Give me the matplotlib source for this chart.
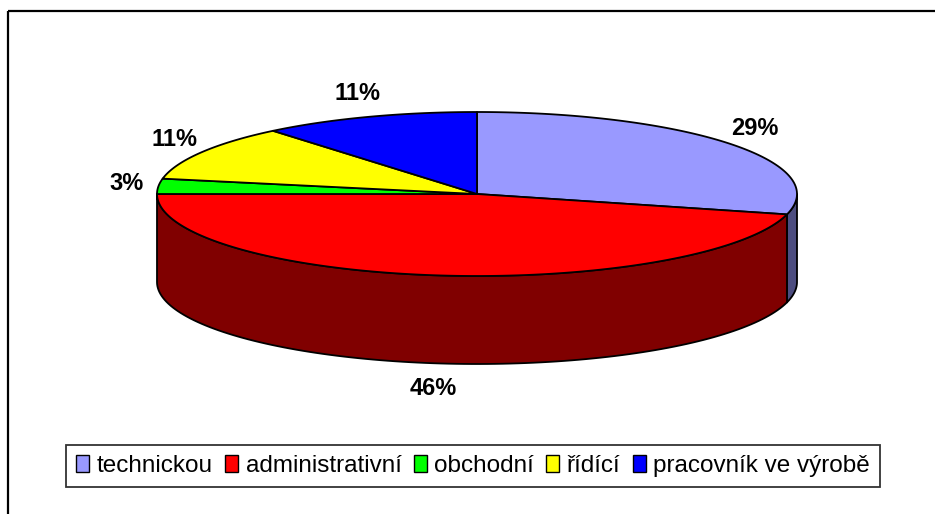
import numpy as np
import matplotlib
matplotlib.use("Agg")
import matplotlib.pyplot as plt
from matplotlib.patches import Polygon, Patch, Rectangle

plt.rcParams['font.family'] = ['Liberation Sans', 'DejaVu Sans']

# data
categories = ["technickou", "administrativní", "obchodní", "řídící", "pracovník ve výrobě"]
shares = [29, 46, 3, 11, 11]
top_colors = ["#9999FF", "#FF0000", "#00FF00", "#FFFF00", "#0000FF"]
side_colors = ["#4D4D80", "#800000", "#008000", "#808000", "#000080"]

# pie geometry, in pixels
cx, cy = 477, 194
a, b = 320, 82
depth = 88


def arc(t1, t2, n=120, dz=0):
    t = np.radians(np.linspace(t1, t2, n))
    return np.column_stack([cx + a * np.cos(t), cy - b * np.sin(t) + dz])


fig = plt.figure(figsize=(9.35, 5.14), dpi=100)
ax = fig.add_axes([0, 0, 1, 1])
ax.set_xlim(0, 935)
ax.set_ylim(514, 0)
ax.axis('off')

# outer chart frame (right and bottom edge fall outside the picture)
ax.add_patch(Rectangle((8, 11), 1000, 600, fill=False, ec='black', lw=1.6))

total = float(sum(shares))
bounds = 90 - 360 * np.concatenate([[0], np.cumsum(shares)]) / total

# front walls
for i in range(len(shares)):
    hi, lo = bounds[i], bounds[i + 1]
    for k in (-1, 0, 1):
        w_lo = max(lo, -180 + 360 * k)
        w_hi = min(hi, 360 * k)
        if w_hi - w_lo > 0.01:
            top = arc(w_lo, w_hi)
            bot = arc(w_lo, w_hi, dz=depth)[::-1]
            ax.add_patch(Polygon(np.vstack([top, bot]), closed=True,
                                 fc=side_colors[i], ec='black', lw=1.3,
                                 joinstyle='round'))

# top faces
for i in range(len(shares)):
    pts = np.vstack([[cx, cy], arc(bounds[i], bounds[i + 1])])
    ax.add_patch(Polygon(pts, closed=True, fc=top_colors[i], ec='black',
                         lw=1.3, joinstyle='round'))

# percentage labels
for i, s in enumerate(shares):
    m = np.radians((bounds[i] + bounds[i + 1]) / 2)
    lx = cx + (a + 32) * np.cos(m)
    ly = cy - (b + 25) * np.sin(m)
    if np.sin(m) < 0:
        ly += depth
    ax.text(lx, ly, f"{s}%", ha='center', va='center', fontsize=17,
            fontweight='bold')

handles = [Patch(fc=c, ec='black', lw=1.0) for c in top_colors]
leg = ax.legend(handles, categories, ncol=5, loc='center',
                bbox_to_anchor=(473 / 935, 1 - 466 / 514),
                fontsize=17.5, frameon=True, fancybox=False,
                handlelength=0.55, handleheight=0.7, handletextpad=0.3,
                columnspacing=0.5, borderpad=0.4, borderaxespad=0)
leg.get_frame().set_edgecolor('black')
leg.get_frame().set_linewidth(1.3)

fig.savefig("out.png", dpi=100)
